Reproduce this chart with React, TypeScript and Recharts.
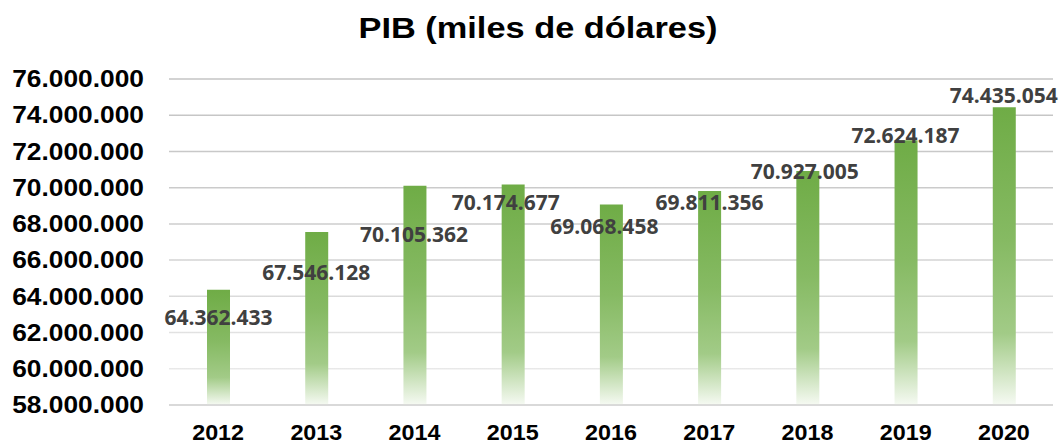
import React from "react";
import {
  Bar,
  BarChart,
  CartesianGrid,
  LabelList,
  XAxis,
  YAxis,
} from "recharts";

const years = ["2012", "2013", "2014", "2015", "2016", "2017", "2018", "2019", "2020"];

const pib = [
  64362433, 67546128, 70105362, 70174677, 69068458, 69811356, 70927005, 72624187,
  74435054,
];

const yTicks = [
  58000000, 60000000, 62000000, 64000000, 66000000, 68000000, 70000000, 72000000,
  74000000, 76000000,
];

// where Excel pushed each data label, relative to the bar top
const labelShiftX = [0, -0.5, -1, -7.5, -7, 0, -3, -0.5, -0.5];
const labelShiftY = [27, 39.4, 48, 17.7, 21.7, 10.7, 0, -5.3, -12.7];

const data = years.map((year, i) => ({
  year,
  value: pib[i],
}));

const fmt = (v: number) =>
  String(Math.round(v)).replace(/\B(?=(\d{3})+(?!\d))/g, ".");

const AXIS_FONT = "'Liberation Sans', Arial, sans-serif";

function YTick({ x, y, payload }: any) {
  return (
    <g transform={`translate(${x},${y}) scale(1.13,1)`}>
      <text
        x={0}
        y={0}
        dy="0.355em"
        textAnchor="end"
        fontFamily={AXIS_FONT}
        fontWeight={700}
        fontSize={23.3}
        fill="#000"
      >
        {fmt(payload.value)}
      </text>
    </g>
  );
}

function XTick({ x, y, payload }: any) {
  return (
    <g transform={`translate(${x},${y}) scale(1.09,1)`}>
      <text
        x={0}
        y={0}
        dy="0.71em"
        textAnchor="middle"
        fontFamily={AXIS_FONT}
        fontWeight={700}
        fontSize={21.4}
        fill="#000"
      >
        {payload.value}
      </text>
    </g>
  );
}

function ValueLabel(props: any) {
  const { x, y, width, value, index } = props;
  return (
    <text
      x={x + width / 2 + labelShiftX[index]}
      y={y + labelShiftY[index]}
      dominantBaseline="central"
      textAnchor="middle"
      fontFamily="'Open Sans', sans-serif"
      fontWeight={700}
      fontSize={21}
      fill="#404040"
    >
      {fmt(value)}
    </text>
  );
}

export default function App() {
  return (
    <div
      style={{
        position: "absolute",
        left: 0,
        top: 0,
        width: 1062,
        height: 445,
        background: "#fff",
      }}
    >
      <div
        style={{
          position: "absolute",
          left: 537.5,
          top: 13.5,
          transform: "translateX(-50%) scaleX(1.185)",
          whiteSpace: "nowrap",
          fontFamily: AXIS_FONT,
          fontWeight: 700,
          fontSize: 29,
          lineHeight: 1,
          color: "#000",
        }}
      >
        PIB (miles de dólares)
      </div>

      <BarChart
        width={1062}
        height={445}
        data={data}
        margin={{
          top: 79,
          right: 9,
          bottom: 0,
          left: 0,
        }}
        barSize={23}
      >
        <defs>
          <linearGradient id="barGrad" x1="0" y1="0" x2="0" y2="1">
            <stop offset="0" stopColor="#6fac46" />
            <stop offset="0.45" stopColor="#86ba63" />
            <stop offset="0.76" stopColor="#a2cb87" />
            <stop offset="1" stopColor="#f6faf3" />
          </linearGradient>
          <linearGradient
            id="gridGrad"
            gradientUnits="userSpaceOnUse"
            x1="0"
            y1="78"
            x2="0"
            y2="406"
          >
            <stop offset="0" stopColor="#c4c4c4" />
            <stop offset="0.45" stopColor="#cdcdcd" />
            <stop offset="1" stopColor="#f0f0f0" />
          </linearGradient>
        </defs>

        <CartesianGrid
          vertical={false}
          stroke="url(#gridGrad)"
          strokeWidth={1.5}
        />

        <XAxis
          dataKey="year"
          height={40}
          interval={0}
          tickSize={0}
          tickMargin={20}
          tickLine={false}
          axisLine={{ stroke: "#d0d0d0", strokeWidth: 1.5 }}
          tick={<XTick />}
        />

        <YAxis
          width={169}
          domain={[58000000, 76000000]}
          ticks={yTicks}
          interval={0}
          tickSize={0}
          tickMargin={25}
          axisLine={false}
          tickLine={false}
          tick={<YTick />}
        />

        <Bar
          dataKey="value"
          fill="url(#barGrad)"
          isAnimationActive={false}
        >
          <LabelList dataKey="value" content={<ValueLabel />} />
        </Bar>
      </BarChart>
    </div>
  );
}
